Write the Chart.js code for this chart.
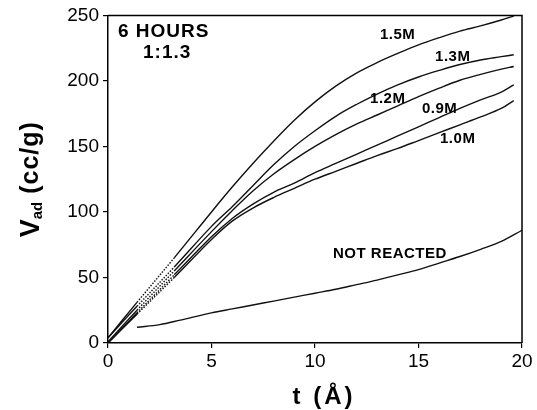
<!DOCTYPE html>
<html>
<head>
<meta charset="utf-8">
<script src="https://cdn.jsdelivr.net/npm/chart.js@4.4.0/dist/chart.umd.min.js"></script>
<style>
  html, body { margin: 0; padding: 0; background: #fff; }
</style>
</head>
<body>
<canvas id="adsorptionChart" width="537" height="410"></canvas>
<script>
// tick values
const xTicks = [0, 5, 10, 15, 20];
const yTicks = [0, 50, 100, 150, 200, 250];

// film thickness t (Å) for the reacted samples
const tReacted = [0, 1.4, 3.2, 5, 6, 7, 8, 9, 10, 11, 12, 13, 14, 15, 16, 17, 18, 19, 19.6];
const v15M = [4, 31, 65, 100, 119, 137, 154, 170, 184, 196, 206, 214, 221, 227.5, 233, 238, 242, 246.5, 249.5];
const v13M = [4, 28, 58, 89, 104, 120, 136, 150, 162, 173, 182, 190, 197, 203, 208, 212.5, 216, 218.5, 220];
const v12M = [1, 25, 55, 85, 101, 116, 129, 140, 150, 159, 167, 174, 181, 188, 194.5, 200.5, 205, 209, 211];
const v09M = [0, 23, 52, 81, 95, 106, 115, 122, 130, 137, 144, 151, 158, 165, 172, 179, 185.5, 191.5, 197];
const v10M = [0, 22, 50, 79, 93, 103, 111, 118, 125, 131, 137, 143, 148.5, 154.5, 160.5, 166.5, 172.5, 179, 185];

// not reacted sample
const tNotReacted = [1.4, 2.5, 3.5, 5, 6, 7, 8, 9, 10, 11, 12, 13, 14, 15, 16, 17, 18, 19, 20];
const vNotReacted = [12, 14, 17.5, 23, 26, 29, 32, 35, 38, 41, 44.5, 48, 52, 56, 61, 66, 71.5, 77.5, 86];

const seriesNames = ["1.5M", "1.3M", "1.2M", "0.9M", "1.0M", "NOT REACTED"];

const FONT = '"Liberation Sans", Arial, Helvetica, sans-serif';
Chart.defaults.font.family = FONT;
Chart.defaults.color = "#000";

const toPoints = (ts, vs) => ts.map((t, i) => ({ x: t, y: vs[i] }));

// extrapolated part of the reacted curves is dotted
const dottedFrom = 1.4, dottedTo = 3.3;

function makeSet(label, ts, vs, dotted) {
  return {
    label,
    data: toPoints(ts, vs),
    borderColor: "#111",
    borderWidth: 1.4,
    pointRadius: 0,
    tension: 0.35,
    segment: dotted
      ? {
          borderDash: (ctx) =>
            ctx.p0.parsed.x >= dottedFrom && ctx.p1.parsed.x <= dottedTo ? [1.5, 1.5] : undefined,
        }
      : {},
  };
}

// text placed in data coordinates
const notes = [
  { text: "6 HOURS", t: 0.48, v: 237.5, size: 19, spacing: 1 },
  { text: "1:1.3", t: 1.69, v: 221.5, size: 19, spacing: 1 },
  { text: seriesNames[0], t: 13.14, v: 235, size: 15, spacing: 0.5 },
  { text: seriesNames[1], t: 15.8, v: 218, size: 15, spacing: 0.5 },
  { text: seriesNames[2], t: 12.66, v: 186.5, size: 15, spacing: 0.5 },
  { text: seriesNames[3], t: 15.17, v: 179, size: 15, spacing: 0.5 },
  { text: seriesNames[4], t: 16.04, v: 156, size: 15, spacing: 0.5 },
  { text: seriesNames[5], t: 10.87, v: 68, size: 15, spacing: 0.5 },
];

const decorPlugin = {
  id: "decor",
  afterDraw(chart) {
    const { ctx, chartArea: a, scales } = chart;
    ctx.save();

    // top and right frame
    ctx.strokeStyle = "#000";
    ctx.lineWidth = 1.5;
    ctx.beginPath();
    ctx.moveTo(a.left, a.top);
    ctx.lineTo(a.right, a.top);
    ctx.lineTo(a.right, a.bottom);
    ctx.stroke();

    // annotations
    ctx.fillStyle = "#000";
    ctx.textBaseline = "middle";
    ctx.textAlign = "left";
    notes.forEach((n) => {
      ctx.font = `bold ${n.size}px ${FONT}`;
      ctx.letterSpacing = `${n.spacing}px`;
      ctx.fillText(n.text, scales.x.getPixelForValue(n.t), scales.y.getPixelForValue(n.v));
    });

    // x title
    ctx.font = `bold 24px ${FONT}`;
    ctx.letterSpacing = "3px";
    ctx.textAlign = "center";
    ctx.textBaseline = "alphabetic";
    ctx.fillText("t (Å)", (a.left + a.right) / 2 + 9, 404);

    // y title: V_ad (cc/g)
    ctx.translate(39, (a.top + a.bottom) / 2);
    ctx.rotate(-Math.PI / 2);
    ctx.textAlign = "left";
    ctx.letterSpacing = "0px";
    ctx.font = `bold 27px ${FONT}`;
    const wV = ctx.measureText("V").width;
    ctx.font = `bold 15px ${FONT}`;
    const wAd = ctx.measureText("ad").width;
    ctx.font = `bold 25px ${FONT}`;
    ctx.letterSpacing = "1px";
    const wUnit = ctx.measureText("(cc/g)").width;
    const gap = 8;
    const x0 = -(wV + wAd + gap + wUnit) / 2;
    ctx.letterSpacing = "0px";
    ctx.font = `bold 27px ${FONT}`;
    ctx.fillText("V", x0, 0);
    ctx.font = `bold 15px ${FONT}`;
    ctx.fillText("ad", x0 + wV, 3);
    ctx.font = `bold 25px ${FONT}`;
    ctx.letterSpacing = "1px";
    ctx.fillText("(cc/g)", x0 + wV + wAd + gap, -1);

    ctx.restore();
  },
};

const axisCommon = {
  type: "linear",
  grid: { drawOnChartArea: false, drawTicks: true, tickLength: 5, color: "#000", lineWidth: 1.2 },
  border: { display: true, color: "#000", width: 1.5 },
};

new Chart(document.getElementById("adsorptionChart"), {
  type: "line",
  data: {
    datasets: [
      makeSet(seriesNames[0], tReacted, v15M, true),
      makeSet(seriesNames[1], tReacted, v13M, true),
      makeSet(seriesNames[2], tReacted, v12M, true),
      makeSet(seriesNames[3], tReacted, v09M, true),
      makeSet(seriesNames[4], tReacted, v10M, true),
      makeSet(seriesNames[5], tNotReacted, vNotReacted, false),
    ],
  },
  options: {
    responsive: false,
    animation: false,
    devicePixelRatio: 1,
    layout: { padding: { top: 14, right: 15, left: 0, bottom: 0 } },
    plugins: { legend: { display: false }, tooltip: { enabled: false } },
    scales: {
      x: {
        ...axisCommon,
        min: 0,
        max: 20,
        afterBuildTicks: (s) => (s.ticks = xTicks.map((v) => ({ value: v }))),
        afterFit: (s) => (s.height = 67),
        ticks: { font: { size: 19 }, color: "#000", padding: 2, maxRotation: 0 },
      },
      y: {
        ...axisCommon,
        min: 0,
        max: 250,
        afterBuildTicks: (s) => (s.ticks = yTicks.map((v) => ({ value: v }))),
        afterFit: (s) => (s.width = 108),
        ticks: { font: { size: 19 }, color: "#000", padding: 4 },
      },
    },
  },
  plugins: [decorPlugin],
});
</script>
</body>
</html>
